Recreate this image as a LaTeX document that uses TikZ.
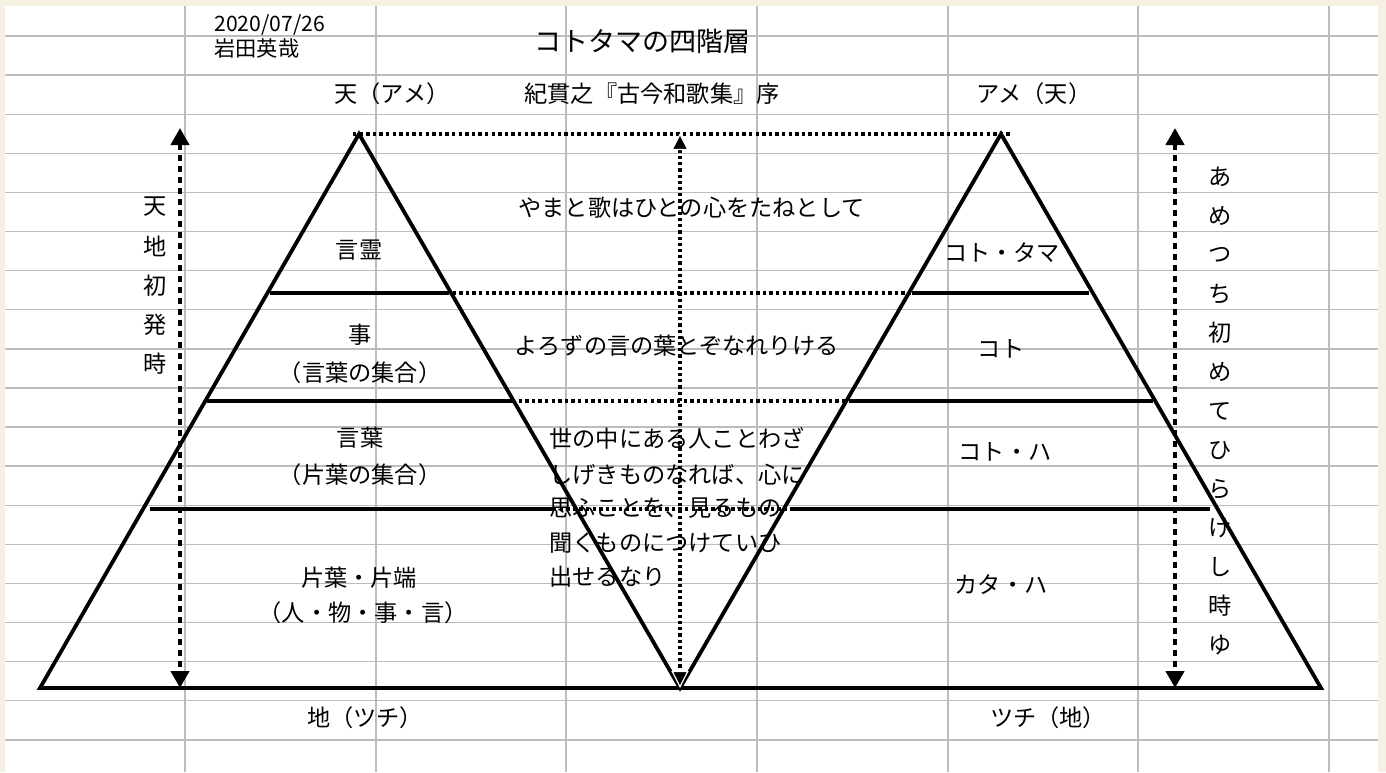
\documentclass[tikz,border=0pt]{standalone}
\usepackage{fontspec}
\setmainfont{Noto Sans CJK JP}
\usetikzlibrary{arrows.meta}
\definecolor{framebg}{RGB}{246,240,227}
\definecolor{gridcol}{RGB}{188,188,188}
\tikzset{
  grd/.style={draw=gridcol, line width=0.7pt},
  tri/.style={draw=black, line width=1.9pt, line join=miter},
  lvl/.style={draw=black, line width=1.9pt},
  dotline/.style={draw=black, line width=1.8pt, dash pattern=on 1.7pt off 1.6pt},
  vdash/.style={draw=black, line width=2.1pt, dash pattern=on 3pt off 2.5pt},
  vdot/.style={draw=black, line width=1.8pt, dash pattern=on 1.6pt off 1.5pt},
  txt/.style={inner sep=0pt, font=\fontsize{11.6pt}{14pt}\selectfont},
  small/.style={inner sep=0pt, font=\fontsize{10.6pt}{12pt}\selectfont},
  ttl/.style={inner sep=0pt, font=\fontsize{13.5pt}{16pt}\selectfont},
}
\begin{document}
\begin{tikzpicture}[x=0.5pt,y=-0.5pt]
\useasboundingbox (0,0) rectangle (1386,772);
\fill[framebg] (0,0) rectangle (1386,772);
\fill[white] (5,6) rectangle (1378,772);
% spreadsheet grid
\foreach \k in {0,...,18} \draw[grd] (5,{36+39.1*\k}) -- (1378,{36+39.1*\k});
\foreach \x in {185,376,566,757,948,1138,1329} \draw[grd] (\x,6) -- (\x,772);

% triangles
\coordinate (L) at (40,688);
\coordinate (A1) at (359,134);
\coordinate (V) at (680,688);
\coordinate (A2) at (1001,134);
\coordinate (R) at (1321,688);
\draw[tri] (L) -- (A1) -- (V) -- (A2) -- (R) -- cycle;

% top dotted line
\coordinate (t1) at (353,134);
\coordinate (t2) at (1010,134);
\draw[dotline] (t1) -- (t2);

% level 1
\coordinate (a1) at (270,293); \coordinate (a2) at (446,293);
\coordinate (a3) at (912,293); \coordinate (a4) at (1089,293);
\draw[lvl] (a1) -- (a2);
\draw[dotline] (a2) -- (a3);
\draw[lvl] (a3) -- (a4);
% level 2
\coordinate (b1) at (207,401); \coordinate (b2) at (512,401);
\coordinate (b3) at (849,401); \coordinate (b4) at (1153,401);
\draw[lvl] (b1) -- (b2);
\draw[dotline] (b2) -- (b3);
\draw[lvl] (b3) -- (b4);
% level 3
\coordinate (c1) at (150,509); \coordinate (c2) at (553,509);
\coordinate (c3) at (790,509); \coordinate (c4) at (1210,509);
\draw[lvl] (c1) -- (c2);
\draw[dotline] (c2) -- (c3);
\draw[lvl] (c3) -- (c4);

% vertical arrows
\coordinate (lt) at (180,128); \coordinate (lb) at (180,688);
\draw[vdash, {Triangle[width=9pt,length=8.5pt]}-{Triangle[width=9pt,length=8.5pt]}] (lt) -- (lb);
\coordinate (rt) at (1175,128); \coordinate (rb) at (1175,688);
\draw[vdash, {Triangle[width=9pt,length=8.5pt]}-{Triangle[width=9pt,length=8.5pt]}] (rt) -- (rb);
\coordinate (mt) at (680,133); \coordinate (mb) at (680,688);
\draw[vdot, {Triangle[width=8.5pt,length=8.5pt,fill=black,color=white,line width=0.6pt]}-{Triangle[width=8.5pt,length=8.5pt,fill=black,color=white,line width=0.6pt]}] (mt) -- (mb);

% header texts
\node[small, anchor=west] (date) at (214,25) {2020/07/26};
\node[small, anchor=west] (auth) at (214,48) {岩田英哉};
\node[ttl] (title) at (642,41) {コトタマの四階層};
\node[txt] (ame1) at (392,94) {天（アメ）};
\node[txt, anchor=west] (src) at (524,94) {紀貫之『古今和歌集』序};
\node[txt, anchor=west] (ame2) at (976,94) {アメ（天）};

% left pyramid labels
\node[txt] (k1) at (359,250) {言霊};
\node[txt] (k2) at (360,335) {事};
\node[txt] (k2b) at (360,373) {（言葉の集合）};
\node[txt] (k3) at (360,438) {言葉};
\node[txt] (k3b) at (360,475) {（片葉の集合）};
\node[txt] (k4) at (359,578) {片葉・片端};
\node[txt] (k4b) at (363,613) {（人・物・事・言）};

% right pyramid labels
\node[txt] (r1) at (1002,253) {コト・タマ};
\node[txt] (r2) at (1001,349) {コト};
\node[txt] (r3) at (1005,452) {コト・ハ};
\node[txt] (r4) at (1001,585) {カタ・ハ};

% middle quotation
\node[txt, anchor=west] (m1) at (518,208) {やまと歌はひとの心をたねとして};
\node[txt, anchor=west] (m2) at (514,346) {よろずの言の葉とぞなれりける};
\node[txt, anchor=west] (m3) at (549,438) {世の中にある人ことわざ};
\node[txt, anchor=west] (m4) at (549,475) {しげきものなれば、心に};
\node[txt, anchor=west] (m5) at (549,508) {思ふことを、見るもの};
\node[txt, anchor=west] (m6) at (549,543) {聞くものにつけていひ};
\node[txt, anchor=west] (m7) at (549,577) {出せるなり};

% bottom labels
\node[txt] (tsuchi1) at (365,718) {地（ツチ）};
\node[txt] (tsuchi2) at (1048,718) {ツチ（地）};

% vertical texts
\foreach \c [count=\i] in {天,地,初,発,時}
  \node[txt] (lv\i) at (155,{207+39.1*(\i-1)}) {\c};
\foreach \c [count=\i] in {あ,め,つ,ち,初,め,て,ひ,ら,け,し,時,ゆ}
  \node[txt] (rv\i) at (1220,{177+39*(\i-1)}) {\c};
\end{tikzpicture}
\end{document}
